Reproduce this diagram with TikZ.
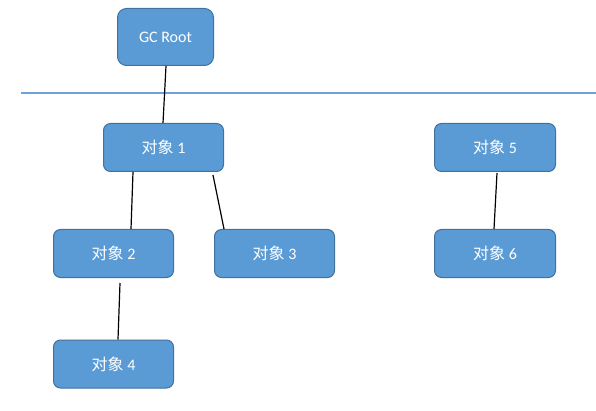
\documentclass[tikz,border=0pt]{standalone}
\usepackage{fontspec}
\setmainfont{Carlito}
\newfontfamily\cjk{Noto Sans CJK SC}
\definecolor{boxfill}{HTML}{5B9BD5}
\definecolor{boxline}{HTML}{41719C}
\definecolor{sepline}{HTML}{6FA0D8}
\begin{document}
\begin{tikzpicture}[x=1pt,y=-1pt,
  obj/.style={draw=boxline, fill=boxfill, line width=1pt, rounded corners=7pt,
    minimum width=120pt, minimum height=48pt, inner sep=0pt, text=white,
    font=\fontsize{16}{16}\selectfont},
  link/.style={black, line width=1.2pt},
  sep/.style={sepline, line width=2pt}]
\useasboundingbox (0,0) rectangle (596,411);
\coordinate (sepL) at (21,93.5);
\coordinate (sepR) at (596,93.5);
\draw[sep] (sepL) -- (sepR);
\node[obj, minimum width=96pt, minimum height=57pt, rounded corners=9pt] (root) at (165.5,37) {GC Root};
\node[obj] (n1) at (163.5,147.5) {{\cjk 对象} 1};
\node[obj] (n2) at (113.5,253.5) {{\cjk 对象} 2};
\node[obj] (n3) at (274.5,253.5) {{\cjk 对象} 3};
\node[obj] (n4) at (113.5,364) {{\cjk 对象} 4};
\node[obj, minimum width=121pt] (n5) at (495,147.5) {{\cjk 对象} 5};
\node[obj, minimum width=121pt] (n6) at (495,253.5) {{\cjk 对象} 6};
\draw[link] ([xshift=0.5pt]root.south) -- ([xshift=-0.5pt]n1.north);
\draw[link] ([xshift=-30.5pt]n1.south) -- ([xshift=17.5pt]n2.north);
\draw[link] ([xshift=49.5pt,yshift=-3pt]n1.south) -- ([xshift=-50.5pt]n3.north);
\draw[link] ([xshift=6.5pt,yshift=-5pt]n2.south) -- ([xshift=4.5pt]n4.north);
\draw[link] ([xshift=2pt,yshift=-1pt]n5.south) -- ([xshift=-1pt]n6.north);
\end{tikzpicture}
\end{document}
